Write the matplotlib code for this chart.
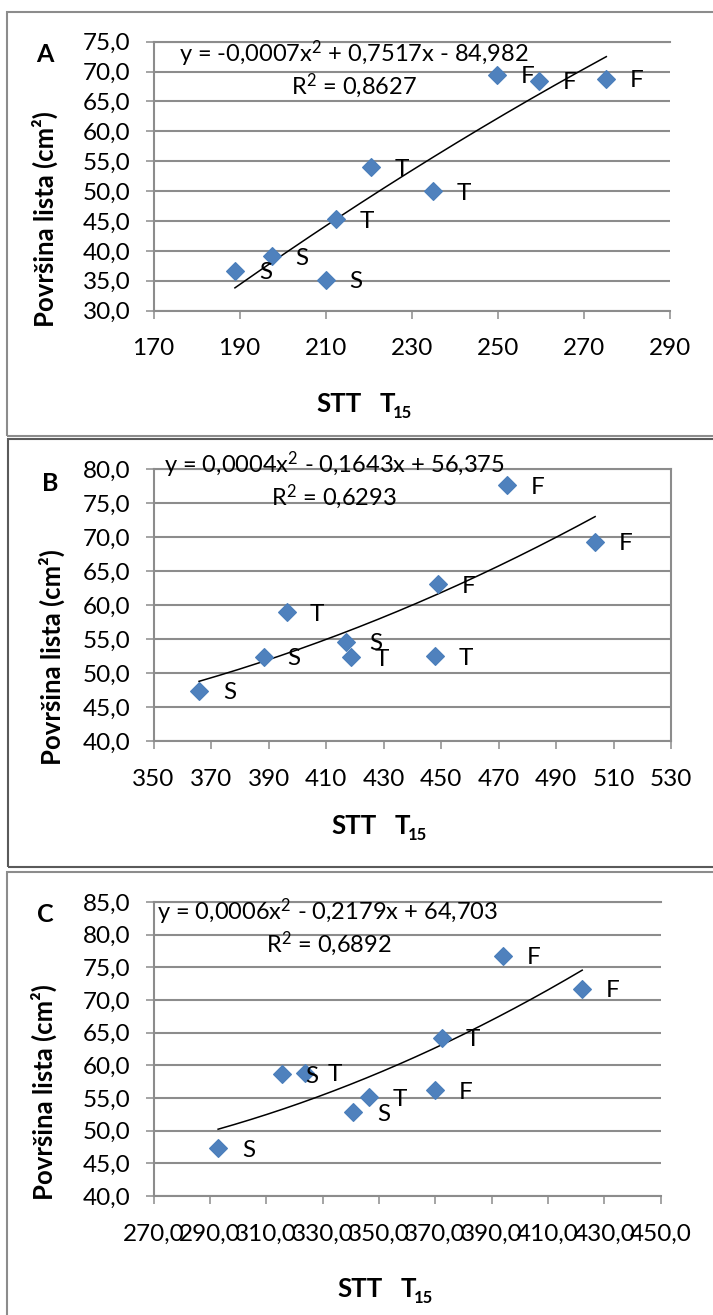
import numpy as np
import matplotlib
matplotlib.use('Agg')
import matplotlib.pyplot as plt
from matplotlib.patches import Rectangle
from matplotlib.ticker import FuncFormatter

plt.rcParams['font.family'] = ['Lato', 'DejaVu Sans']
plt.rcParams['mathtext.fontset'] = 'custom'
plt.rcParams['mathtext.rm'] = 'Lato'
plt.rcParams['mathtext.it'] = 'Lato'
plt.rcParams['mathtext.bf'] = 'Lato:bold'

# ---------------- data ----------------
A_x = [188.9, 197.4, 210.0, 212.4, 220.5, 235.0, 249.9, 259.5, 275.2]
A_y = [36.7, 39.1, 35.2, 45.3, 54.0, 50.0, 69.5, 68.5, 68.8]
A_lab = ['S', 'S', 'S', 'T', 'T', 'T', 'F', 'F', 'F']

B_x = [365.8, 388.3, 396.3, 416.8, 418.8, 447.9, 448.9, 472.9, 503.6]
B_y = [47.4, 52.4, 58.9, 54.6, 52.3, 52.5, 63.1, 77.6, 69.3]
B_lab = ['S', 'S', 'T', 'S', 'T', 'T', 'F', 'F', 'F']

C_x = [292.9, 315.5, 323.6, 340.9, 346.5, 369.9, 372.5, 394.0, 422.2]
C_y = [47.3, 58.6, 58.9, 52.8, 55.1, 56.2, 64.2, 76.8, 71.7]
C_lab = ['S', 'S', 'T', 'S', 'T', 'F', 'T', 'F', 'F']

A_eq = r'y = -0,0007$\mathrm{x}^{2}$ + 0,7517x - 84,982'
A_r2 = r'$\mathrm{R}^{2}$ = 0,8627'
B_eq = r'y = 0,0004$\mathrm{x}^{2}$ - 0,1643x + 56,375'
B_r2 = r'$\mathrm{R}^{2}$ = 0,6293'
C_eq = r'y = 0,0006$\mathrm{x}^{2}$ - 0,2179x + 64,703'
C_r2 = r'$\mathrm{R}^{2}$ = 0,6892'

A_xticks = [170, 190, 210, 230, 250, 270, 290]
A_yticks = [30, 35, 40, 45, 50, 55, 60, 65, 70, 75]
B_xticks = [350, 370, 390, 410, 430, 450, 470, 490, 510, 530]
B_yticks = [40, 45, 50, 55, 60, 65, 70, 75, 80]
C_xticks = [270, 290, 310, 330, 350, 370, 390, 410, 430, 450]
C_yticks = [40, 45, 50, 55, 60, 65, 70, 75, 80, 85]

ylabel = 'Površina lista (cm²)'
xlabel_main = 'STT'
xlabel_var = 'T'
xlabel_sub = '15'

# ---------------- layout ----------------
W, H = 713, 1315
fig = plt.figure(figsize=(W / 100, H / 100), dpi=100)


def fx(px):
    return px / W


def fy(py):
    return 1 - py / H


GRID = '#8c8c8c'
BLUE = '#4F81BD'
FS_TICK = 17.5
FS_PT = 17.5
FS_EQ = 17
FS_YL = 18.5
FS_XL = 18.5
FS_SUB = 12
FS_LET = 18

panels = [
    dict(x=A_x, y=A_y, lab=A_lab, eq=A_eq, r2=A_r2, letter='A',
         xt=A_xticks, yt=A_yticks,
         box=(153.6, 41.7, 670, 310.7), xfmt='int', right=False,
         eqpos=(179, 54), r2pos=(291, 86), letpos=(45, 55),
         ylpos=(45, 219), xlpos=(316, 412),
         frame=(7, 12, 720, 436, '#8c8c8c')),
    dict(x=B_x, y=B_y, lab=B_lab, eq=B_eq, r2=B_r2, letter='B',
         xt=B_xticks, yt=B_yticks,
         box=(153.6, 469, 671, 741), xfmt='int', right=True,
         eqpos=(164, 465), r2pos=(271, 497), letpos=(50, 483),
         ylpos=(52, 657), xlpos=(331, 834),
         frame=(8, 439, 720, 867, '#5a5a5a')),
    dict(x=C_x, y=C_y, lab=C_lab, eq=C_eq, r2=C_r2, letter='C',
         xt=C_xticks, yt=C_yticks,
         box=(153.6, 902, 660.5, 1196), xfmt='dec', right=False,
         eqpos=(157, 912), r2pos=(266, 944), letpos=(45, 915),
         ylpos=(44, 1092), xlpos=(337, 1297),
         frame=(7, 872, 720, 1330, '#8c8c8c')),
]

for p in panels:
    l, t, r, b = p['box']
    ax = fig.add_axes([fx(l), fy(b), (r - l) / W, (b - t) / H])
    x = np.array(p['x'])
    y = np.array(p['y'])

    ax.set_xticks(p['xt'])
    ax.set_yticks(p['yt'])
    ax.set_xlim(p['xt'][0], p['xt'][-1])
    ax.set_ylim(p['yt'][0], p['yt'][-1])
    if p['xfmt'] == 'int':
        ax.xaxis.set_major_formatter(FuncFormatter(lambda v, pos: f'{v:.0f}'))
    else:
        ax.xaxis.set_major_formatter(FuncFormatter(lambda v, pos: f'{v:.1f}'.replace('.', ',')))
    ax.yaxis.set_major_formatter(FuncFormatter(lambda v, pos: f'{v:.1f}'.replace('.', ',')))

    ax.yaxis.grid(True, color=GRID, lw=1.5)
    ax.set_axisbelow(True)
    for s in ['left', 'bottom', 'top', 'right']:
        ax.spines[s].set_color(GRID)
        ax.spines[s].set_linewidth(1.5)
    ax.spines['right'].set_visible(p['right'])
    ax.tick_params(axis='both', direction='out', length=5.8, width=1.1,
                   color=GRID, labelsize=FS_TICK)
    ax.tick_params(axis='x', pad=14)
    ax.tick_params(axis='y', pad=11)

    coef = np.polyfit(x, y, 2)
    xs = np.linspace(x.min(), x.max(), 200)
    ax.plot(xs, np.polyval(coef, xs), color='black', lw=1.1, zorder=2)
    ax.plot(x, y, ls='none', marker='D', ms=9.5, mfc=BLUE, mec='#4A7EBB',
            mew=0.8, zorder=3, clip_on=False)
    for xi, yi, lb in zip(x, y, p['lab']):
        ax.annotate(lb, (xi, yi), xytext=(22, -1.5), textcoords='offset points',
                    ha='center', va='center', fontsize=FS_PT, zorder=4,
                    annotation_clip=False)

    fig.text(fx(p['eqpos'][0]), fy(p['eqpos'][1]), p['eq'], ha='left', va='center', fontsize=FS_EQ)
    fig.text(fx(p['r2pos'][0]), fy(p['r2pos'][1]), p['r2'], ha='left', va='center', fontsize=FS_EQ)
    fig.text(fx(p['letpos'][0]), fy(p['letpos'][1]), p['letter'], ha='center', va='center',
             fontsize=FS_LET, fontweight='bold')
    fig.text(fx(p['ylpos'][0]), fy(p['ylpos'][1]), ylabel, rotation=90, ha='center',
             va='center', fontsize=FS_YL, fontweight='bold')
    lx, ly = p['xlpos']
    fig.text(fx(lx), fy(ly), xlabel_main, ha='left', va='baseline',
             fontsize=FS_XL, fontweight='bold')
    fig.text(fx(lx + 64), fy(ly), xlabel_var, ha='left', va='baseline',
             fontsize=FS_XL, fontweight='bold')
    fig.text(fx(lx + 77), fy(ly + 6), xlabel_sub, ha='left', va='baseline',
             fontsize=FS_SUB, fontweight='bold')

    fl, ft, fr, fb, fc = p['frame']
    fig.add_artist(Rectangle((fx(fl), fy(fb)), (fr - fl) / W, (fb - ft) / H,
                             transform=fig.transFigure, fill=False, ec=fc, lw=1.5))

fig.savefig('out.png', dpi=100, facecolor='white')
